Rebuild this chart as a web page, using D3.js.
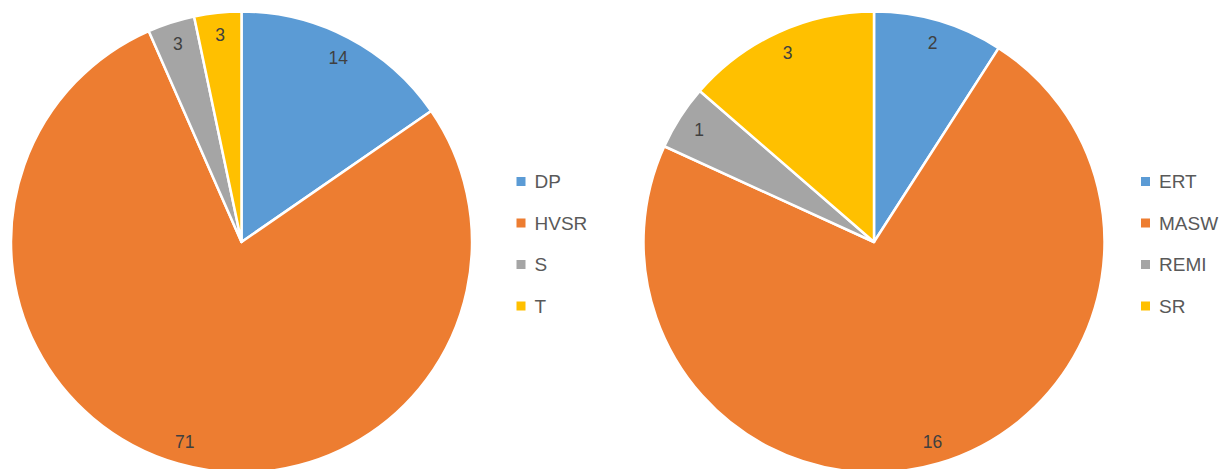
<!DOCTYPE html>
<html>
<head>
<meta charset="utf-8">
<script src="https://cdn.jsdelivr.net/npm/d3@7"></script>
<style>
	body { margin: 0; background: #fff; }
	.lbl { font-family: "Liberation Sans", Arial, sans-serif; font-size: 17.5px; fill: #404040; }
	.leg { font-family: "Liberation Sans", Arial, sans-serif; font-size: 19px; fill: #595959; }
</style>
</head>
<body>
<svg></svg>
<script>
	var leftCats = ["DP", "HVSR", "S", "T"];
	var leftVals = [14, 71, 3, 3];
	var rightCats = ["ERT", "MASW", "REMI", "SR"];
	var rightVals = [2, 16, 1, 3];
	var colors = ["#5B9BD5", "#ED7D31", "#A5A5A5", "#FFC000"];

	var size = { wt: 1226, ht: 469 };
	var radius = 230.5;
	var labelR = 208;

	var svg = d3.select("svg").attr("width", size.wt).attr("height", size.ht);

	var color = d3.scaleOrdinal().domain([0, 1, 2, 3]).range(colors);

	function drawPie(cats, vals, cx, cy, legX) {
		var data = cats.map(function (c, i) { return { name: c, value: vals[i], i: i }; });
		var pie = d3.pie().sort(null).value(function (d) { return d.value; });
		var arc = d3.arc().innerRadius(0).outerRadius(radius);
		var labArc = d3.arc().innerRadius(labelR).outerRadius(labelR);
		var g = svg.append("g").attr("transform", "translate(" + cx + "," + cy + ")");
		var arcs = pie(data);

		g.selectAll("path").data(arcs).enter()
			.append("path")
			.attr("d", arc)
			.attr("fill", function (d) { return color(d.data.i); })
			.attr("stroke", "#fff")
			.attr("stroke-width", 2.5)
			.attr("stroke-linejoin", "round");

		g.selectAll("text").data(arcs).enter()
			.append("text")
			.attr("class", "lbl")
			.attr("transform", function (d) { return "translate(" + labArc.centroid(d) + ")"; })
			.attr("text-anchor", "middle")
			.attr("dy", "0.35em")
			.text(function (d) { return d.data.value; });

		// legend
		var y = d3.scalePoint().domain(cats).range([181.5, 306]);
		var leg = svg.append("g");
		leg.selectAll("rect").data(data).enter()
			.append("rect")
			.attr("x", legX)
			.attr("y", function (d) { return y(d.name) - 4.5; })
			.attr("width", 9).attr("height", 9)
			.attr("fill", function (d) { return color(d.i); });
		leg.selectAll("text").data(data).enter()
			.append("text")
			.attr("class", "leg")
			.attr("x", legX + 18)
			.attr("y", function (d) { return y(d.name); })
			.attr("dy", "0.36em")
			.text(function (d) { return d.name; });
	}

	drawPie(leftCats, leftVals, 241.5, 242, 516.5);
	drawPie(rightCats, rightVals, 874, 242, 1141);
</script>
</body>
</html>
